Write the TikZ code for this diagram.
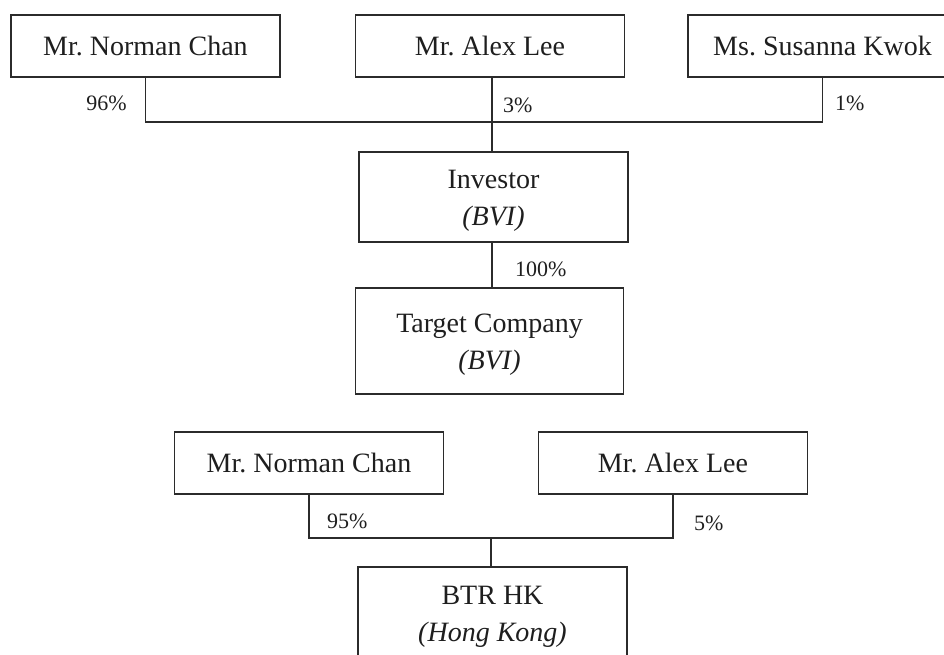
\documentclass[tikz,border=0pt]{standalone}
\usepackage{fontspec}
\setmainfont{Liberation Serif}
\definecolor{linegray}{HTML}{2B2B2B}
\definecolor{inkblack}{HTML}{1E1E1E}
\begin{document}
\frenchspacing
\begin{tikzpicture}[x=1pt,y=-1pt,
  box/.style={draw=linegray, line width=1.2pt, inner sep=0pt, minimum width=269pt,
              align=center, text=inkblack, font=\fontsize{28}{37}\selectfont},
  boxtext/.style={inner sep=0pt, align=center, text=inkblack, font=\fontsize{28}{37}\selectfont},
  pct/.style={inner sep=0pt, text=inkblack, font=\fontsize{22}{22}\selectfont},
  link/.style={draw=linegray, line width=1.2pt}]
\useasboundingbox (0,0) rectangle (944,654);
\clip (0,0) rectangle (944,654);

% first structure: shareholders of the Investor
\node[box, minimum height=62pt] (norman) at (145.5,46) {Mr. Norman Chan};
\node[box, minimum height=62pt] (alex)   at (490,46)   {Mr. Alex Lee};
\node[box, minimum height=62pt] (kwok)   at (822.5,46) {Ms. Susanna Kwok};
\node[box, minimum height=90pt] (investor) at (493.5,197) {};
\node[boxtext] (investortext) at ([yshift=-4pt]investor.center) {Investor\\\textit{(BVI)}};
\node[box, minimum height=106pt, minimum width=268pt] (target) at (489.5,341) {};
\node[boxtext] (targettext) at ([yshift=-4pt]target.center) {Target Company\\\textit{(BVI)}};

\coordinate (j1) at (492,122);
\draw[link] (norman.south) |- (kwok.south |- j1) -- (kwok.south);
\draw[link] (alex.south -| j1) -- (investor.north -| j1);
\draw[link] (investor.south -| j1) -- (target.north -| j1);

\node[pct, anchor=base east] (p96)  at (127,110) {96\%};
\node[pct, anchor=base west] (p3)   at (503,112) {3\%};
\node[pct, anchor=base west] (p1)   at (835,110) {1\%};
\node[pct, anchor=base west] (p100) at (515,276) {100\%};

% second structure: shareholders of BTR HK
\node[box, minimum height=62pt] (norman2) at (309,463) {Mr. Norman Chan};
\node[box, minimum height=62pt] (alex2)   at (673,463) {Mr. Alex Lee};
\node[box, minimum height=92pt] (btr)     at (492.5,613) {};
\node[boxtext] (btrtext) at ([yshift=-4pt]btr.center) {BTR HK\\\textit{(Hong Kong)}};

\coordinate (j2) at (491,538);
\draw[link] (norman2.south) |- (alex2.south |- j2) -- (alex2.south);
\draw[link] (j2) -- (j2 |- btr.north);

\node[pct, anchor=base west] (p95) at (327,528) {95\%};
\node[pct, anchor=base west] (p5)  at (694,530) {5\%};
\end{tikzpicture}
\end{document}
